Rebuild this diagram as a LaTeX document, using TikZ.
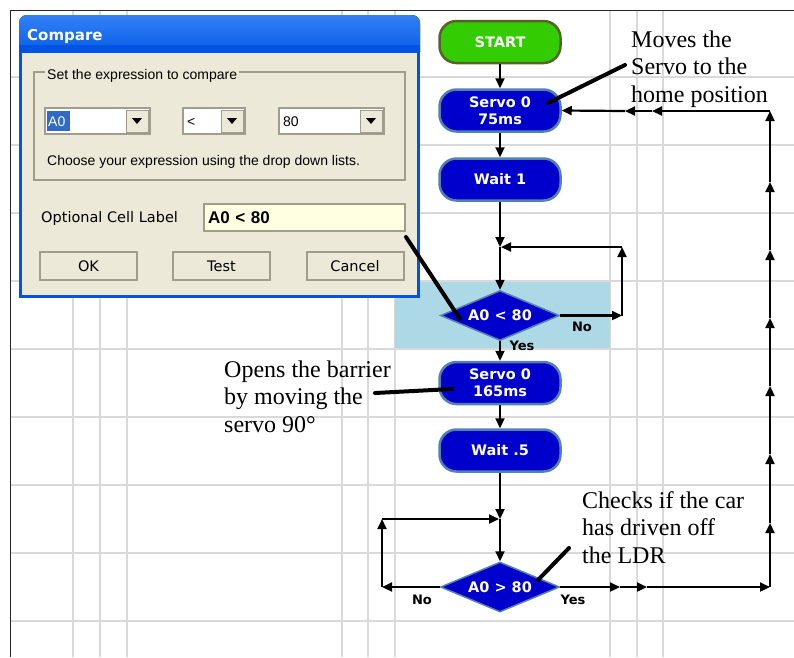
\documentclass[tikz,border=0pt]{standalone}
\usepackage{fontspec}
\setmainfont{Liberation Serif}
\setsansfont{Liberation Sans}
\newfontfamily\cellfont{DejaVu Sans}
\usepackage{xcolor}
\definecolor{pbBlue}{RGB}{0,0,204}
\definecolor{pbEdge}{RGB}{84,130,176}
\definecolor{pbGreen}{RGB}{51,204,0}
\definecolor{pbOlive}{RGB}{84,100,40}
\definecolor{pbGrid}{RGB}{217,217,217}
\definecolor{pbSel}{RGB}{173,216,230}
\definecolor{xpFace}{RGB}{236,233,216}
\definecolor{xpTitle}{RGB}{0,84,227}
\definecolor{xpTitleHi}{RGB}{50,130,245}
\definecolor{xpHilite}{RGB}{49,106,197}
\definecolor{xpShade}{RGB}{160,157,143}
\definecolor{xpTip}{RGB}{255,255,225}
\usetikzlibrary{positioning,arrows.meta,shapes.geometric}

\begin{document}
\begin{tikzpicture}[
  x=1pt,y=-1pt,
  gridline/.style={pbGrid,line width=1.5pt},
  flowbox/.style={rectangle,rounded corners=17pt,draw=pbEdge,line width=2.5pt,fill=pbBlue,
    text=white,font=\cellfont\bfseries\fontsize{14.5}{17}\selectfont,align=center,
    minimum width=121pt,minimum height=42pt,inner sep=0pt},
  startbox/.style={flowbox,fill=pbGreen,draw=pbOlive},
  decision/.style={diamond,aspect=2.4,draw=pbEdge,line width=1.5pt,fill=pbBlue,text=white,
    font=\cellfont\bfseries\fontsize{14.5}{17}\selectfont,minimum width=119pt,minimum height=50pt,inner sep=0pt},
  flow/.style={-{Triangle[length=10pt,width=9pt]},line width=2.2pt},
  branch/.style={font=\cellfont\bfseries\fontsize{13}{13}\selectfont},
  note/.style={font=\fontsize{24}{27.5}\selectfont,align=left,inner sep=0pt,anchor=base west},
  pointer/.style={line width=4pt,line cap=round},
  dlgtext/.style={font=\sffamily\fontsize{14}{16}\selectfont,inner sep=0pt,anchor=base west},
  dlgwide/.style={font=\cellfont\fontsize{14.5}{16}\selectfont},
  combo/.style={draw=xpShade,line width=1.5pt,fill=white},
  xpbutton/.style={rectangle,draw=xpShade,line width=2pt,fill=xpFace,dlgwide,
    minimum width=97pt,minimum height=28pt}]

  \useasboundingbox (0,0) rectangle (794,657);

  % sheet grid
  \foreach \gy in {77,145,...,621}
    \draw[gridline] (10,\gy) -- (794,\gy);
  \foreach \gx in {73,100,127,342,368,395,610,637,663}
    \draw[gridline] (\gx,10) -- (\gx,657);
  \fill[pbSel] (395,282) rectangle (610,348);
  \draw[line width=1.5pt,black!85] (10.5,657) -- (10.5,10.5) -- (794,10.5);

  % compare dialog
  \fill[top color=xpTitleHi,bottom color=xpTitle,rounded corners=8pt] (19,15) rectangle (420,60);
  \fill[xpTitle] (19,45) rectangle (420,298);
  \fill[xpFace] (22,53) rectangle (417,295);
  \node[anchor=west,inner sep=0pt,text=white,font=\cellfont\bfseries\fontsize{15}{15}\selectfont] (dlgTitle) at (27,36) {Compare};
  \draw[xpShade,line width=1.2pt] (34,72) rectangle (405,180);
  \node[dlgtext,fill=xpFace,inner xsep=2pt] (grpLabel) at (45,79) {Set the expression to compare};
  \foreach \xa/\xb in {45/150,183/245,279/384}{
    \draw[combo] (\xa,108) rectangle (\xb,134);
    \draw[fill=xpFace,draw=xpShade,line width=1pt] (\xb-24,110) rectangle (\xb-2,132);
    \fill (\xb-18,118) -- (\xb-8,118) -- (\xb-13,124) -- cycle;
  }
  \fill[xpHilite] (47,111) rectangle (70,131);
  \node[dlgtext,text=white] (cmbA) at (48,126) {A0};
  \node[dlgtext] (cmbOp) at (187,126) {<};
  \node[dlgtext] (cmbVal) at (283,126) {80};
  \node[dlgtext] (hint) at (47,165) {Choose your expression using the drop down lists.};
  \node[dlgwide,inner sep=0pt,anchor=base west] (cellLabel) at (41,222) {Optional Cell Label};
  \node[draw=xpShade,line width=1.5pt,fill=xpTip,text width=193pt,inner xsep=4pt,minimum height=27pt,
    align=left,font=\sffamily\bfseries\fontsize{17}{17}\selectfont] (tbox) at (304.5,217.5) {A0 < 80};
  \foreach \bx/\bt in {88.5/OK,221.5/Test,355/Cancel}
    \node[xpbutton] (b\bt) at (\bx,266) {\bt};

  % flowchart
  \node[startbox] (start) at (500,42) {START};
  \node[flowbox] (servoA) at (500,110.5) {Servo 0\\75ms};
  \node[flowbox] (waitA) at (500,179.5) {Wait 1};
  \node[decision] (decA) at (500,315.5) {A0 < 80};
  \node[flowbox] (servoB) at (500,383) {Servo 0\\165ms};
  \node[flowbox] (waitB) at (500,450.5) {Wait .5};
  \node[decision] (decB) at (500,587) {A0 > 80};

  \coordinate (j1) at (500,247);
  \coordinate (k1) at (622,315.5);
  \coordinate (k2) at (622,247);
  \coordinate (j2) at (500,519);
  \coordinate (m1) at (382,587);
  \coordinate (m2) at (382,519);

  \draw[flow] (start) -- (servoA);
  \draw[flow] (servoA) -- (waitA);
  \draw[flow] (waitA) -- (j1);
  \draw[flow] (j1) -- (decA);
  \draw[flow] (decA.east) -- (k1);
  \draw[flow] (k1) -- (k2);
  \draw[flow,shorten >=1pt] (k2) -- (j1);
  \draw[flow] (decA) -- (servoB);
  \draw[flow] (servoB) -- (waitB);
  \draw[flow] (waitB) -- (j2);
  \draw[flow] (j2) -- (decB);
  \draw[flow] (decB.west) -- (m1);
  \draw[flow] (m1) -- (m2);
  \draw[flow,shorten >=1pt] (m2) -- (j2);

  \node[branch] (noA) at (582,327) {No};
  \node[branch] (yesA) at (522,346) {Yes};
  \node[branch] (noB) at (422,600) {No};
  \node[branch] (yesB) at (573,600) {Yes};

  % return to the home position
  \coordinate (r1) at (620,587);
  \coordinate (r2) at (647,587);
  \coordinate (rc) at (770,587);
  \foreach \v [count=\i] in {523,454,386,318,250,182}
    \coordinate (u\i) at (770,\v);
  \coordinate (tc) at (770,111);
  \coordinate (l1) at (652,111);
  \coordinate (l2) at (625,111);
  \foreach \a/\b in {decB.east/r1,r1/r2,r2/rc,rc/u1,u1/u2,u2/u3,u3/u4,u4/u5,u5/u6,u6/tc,tc/l1,l1/l2,l2/servoA.east}
    \draw[flow] (\a) -- (\b);

  % notes (anchored on their last line)
  \node[note] (noteHome) at (631,102) {Moves the\\Servo to the\\home position};
  \node[note] (noteOpen) at (224,432) {Opens the barrier\\by moving the\\servo 90°};
  \node[note] (noteLDR) at (582,563) {Checks if the car\\has driven off\\the LDR};

  \coordinate (p1a) at (548,103);
  \coordinate (p1b) at (625,65);
  \coordinate (p2a) at (375,393);
  \coordinate (p2b) at (452,389);
  \coordinate (p3a) at (538,580);
  \coordinate (p3b) at (569,548);
  \coordinate (p4a) at (406,237);
  \coordinate (p4b) at (460,319);
  \foreach \p in {1,2,3,4}
    \draw[pointer] (p\p a) -- (p\p b);
\end{tikzpicture}
\end{document}
